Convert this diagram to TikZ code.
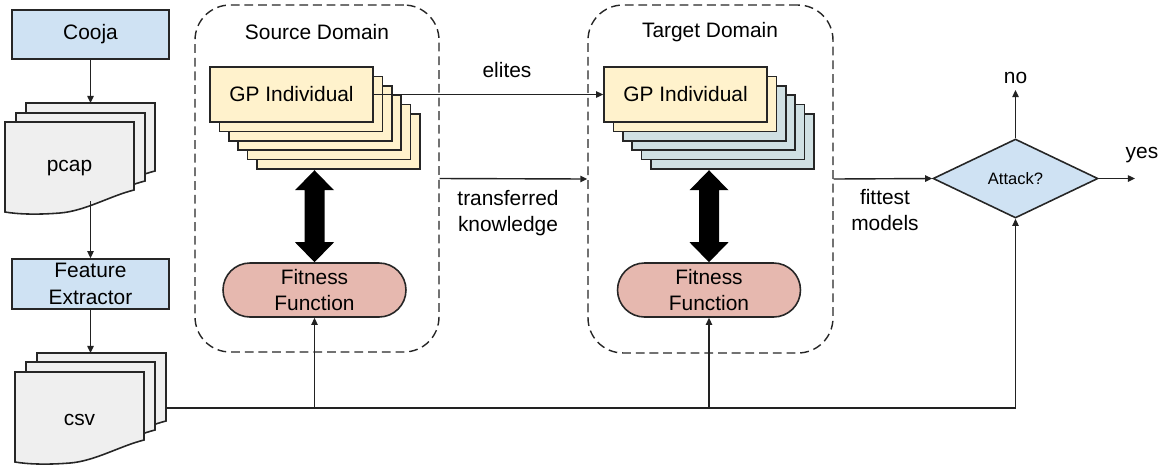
\documentclass[tikz,border=0pt]{standalone}
\usepackage{fontspec}
\setmainfont{Liberation Sans}
\usetikzlibrary{shapes.geometric,arrows.meta,calc}
\definecolor{boxblue}{HTML}{CFE2F3}
\definecolor{docgray}{HTML}{EFEFEF}
\definecolor{gpyellow}{HTML}{FFF2CC}
\definecolor{gpteal}{HTML}{D0E0E3}
\definecolor{fitred}{HTML}{E6B8AF}
\definecolor{linegray}{HTML}{222222}
\newcommand\docpage[2]{%
  \begin{scope}[shift={(#1,#2)}]
    \filldraw[docpg] (0,0) -- (129,0) -- (129,68)
      .. controls (105,74) and (80,89) .. (55,91)
      .. controls (30,93) and (12,92) .. (0,90) -- cycle;
  \end{scope}}
\tikzset{
  docpg/.style={fill=docgray, draw=black!85, line width=0.9pt},
  bluebox/.style={draw=black!85, fill=boxblue, line width=0.9pt, minimum width=3.14cm, inner sep=1pt, align=center},
  gpbox/.style={draw=black!85, line width=0.9pt, minimum width=3.26cm, minimum height=1.1cm},
  fitbox/.style={draw=black!85, fill=fitred, line width=0.9pt, minimum width=3.66cm, minimum height=1.08cm, rounded corners=0.539cm, align=center, inner sep=0pt},
  domainbox/.style={draw=black!85, dash pattern=on 5pt off 2.8pt, line width=0.8pt, rounded corners=0.7cm},
  conn/.style={draw=linegray, line width=0.8pt, -{Triangle[length=4pt,width=3.6pt]}},
  lbl/.style={align=center, inner sep=0pt},
  bigarrow/.style={fill=black}
}
\begin{document}
\begin{tikzpicture}[x=0.02cm, y=-0.02cm, font=\fontsize{11.9}{15.2}\selectfont]
\useasboundingbox (0,0) rectangle (1170,468);

% domain boxes
\node[domainbox, minimum width=4.88cm, minimum height=6.94cm] (srcbox) at (317,178.5) {};
\node[domainbox, minimum width=4.9cm, minimum height=6.96cm] (tgtbox) at (710.5,179) {};
\node[lbl] (srclbl) at (317,32) {Source Domain};
\node[lbl] (tgtlbl) at (710,32) {Target Domain};

% left pipeline
\node[bluebox, minimum height=0.98cm] (cooja) at (90.5,34.5) {Cooja};
\docpage{26}{103}
\docpage{16}{113}
\docpage{5}{122}
\node[lbl] (pcap) at (69.5,168) {pcap};
\coordinate (pcaptop) at (90.5,103);
\coordinate (pcapbot) at (90.5,201);
\node[bluebox, minimum height=1.0cm, font=\fontsize{11.9}{15.8}\selectfont] (fe) at (90.5,284) {Feature\\Extractor};
\docpage{37}{353}
\docpage{26}{362}
\docpage{15}{372}
\node[lbl] (csv) at (79.5,420) {csv};
\coordinate (csvtop) at (90.5,353);
\coordinate (csvout) at (166,408);

% GP stacks
\foreach \i in {5,4,...,1}{
  \node[gpbox, fill=gpyellow] (sgp\i) at (291.5+9.4*\i, 94.5+9.4*\i) {};
}
\node[gpbox, fill=gpyellow] (sgp0) at (291.5,94.5) {GP Individual};
\foreach \i in {5,4,3,2}{
  \node[gpbox, fill=gpteal] (tgp\i) at (685.5+9.4*\i, 94.5+9.4*\i) {};
}
\node[gpbox, fill=gpyellow] (tgp1) at (694.9,103.9) {};
\node[gpbox, fill=gpyellow] (tgp0) at (685.5,94.5) {GP Individual};

% fitness
\node[fitbox] (srcfit) at (314.5,290) {Fitness\\Function};
\node[fitbox] (tgtfit) at (709,290) {Fitness\\Function};

% big double arrows
\foreach \f in {srcfit,tgtfit}{
  \fill[bigarrow] (\f.north) -- ++(-19.5,-20) -- ++(9.5,0) -- ++(0,-52) -- ++(-9.5,0)
    -- ++(19.5,-20) -- ++(19.5,20) -- ++(-9.5,0) -- ++(0,52) -- ++(9.5,0) -- cycle;
}

% decision
\node[draw=black!85, fill=boxblue, line width=0.9pt, diamond, minimum width=3.3cm, minimum height=1.58cm, inner sep=0pt, font=\fontsize{9.4}{11}\selectfont] (att) at (1015.5,178.5) {Attack?};
\coordinate (noend) at (1015.5,90);
\coordinate (yesend) at (1135,178.5);

% connectors
\draw[conn] (cooja.south) -- (pcaptop);
\draw[conn] (pcapbot) -- (fe.north);
\draw[conn] (fe.south) -- (csvtop);
\draw[conn] (csvout) -| (att.south);
\draw[conn] (srcfit.south |- csvout) -- (srcfit.south);
\draw[conn] (tgtfit.south |- csvout) -- (tgtfit.south);
\draw[conn] (sgp0.east) -- (tgp0.west);
\draw[conn] (srcbox.east) -- (tgtbox.west);
\draw[conn] (tgtbox.east) -- (att.west);
\draw[conn] (att.north) -- (noend);
\draw[conn] (att.east) -- (yesend);

% labels
\node[lbl] (elites) at (507,70) {elites};
\node[lbl] (tk) at (508,213) {transferred\\knowledge};
\node[lbl] (fm) at (885,210) {fittest\\models};
\node[lbl] (no) at (1015.5,78) {no};
\node[lbl] (yes) at (1142,155) {yes};
\end{tikzpicture}
\end{document}
